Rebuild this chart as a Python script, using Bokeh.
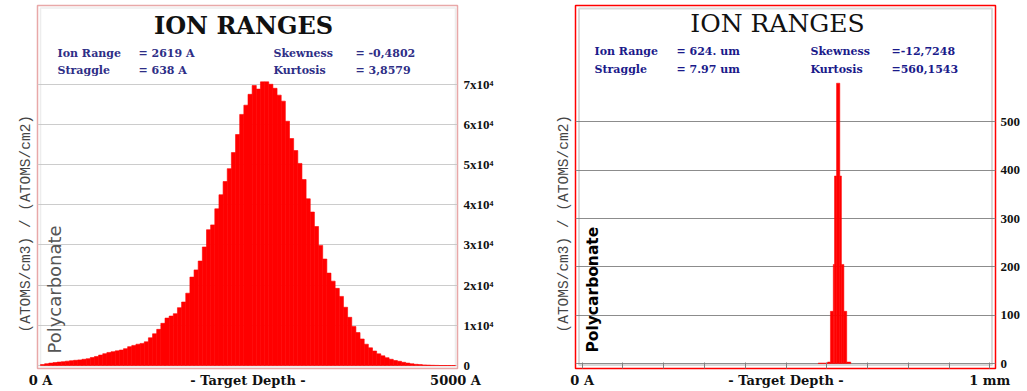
import math
from bokeh.plotting import figure
from bokeh.models import Range1d, FixedTicker, Label, BoxAnnotation, Title
from bokeh.layouts import row
from bokeh.embed import file_html
from bokeh.resources import INLINE

# ---------------- data ----------------
# Left panel: ion distribution, 50 A bins from 0 to 5000 A
left_edges = list(range(0, 5001, 50))
left_counts = [250, 450, 600, 720, 850, 950, 1080, 1200, 1300, 1400,
               1550, 1700, 2000, 2250, 2600, 2950, 3250, 3450, 3650, 3850,
               4200, 4700, 5000, 5300, 5500, 5900, 6900, 7900, 9000, 10500,
               11800, 12300, 12900, 14400, 15800, 18000, 22000, 23800, 26000, 29500,
               33800, 35000, 39000, 42500, 45800, 49000, 53000, 57500, 62500, 64800,
               67500, 69700, 68800, 70600, 70600, 70000, 69000, 67300, 65800, 60800,
               56500, 53500, 50300, 46300, 41500, 38200, 34600, 29900, 26500, 23000,
               21000, 19200, 17200, 14500, 12000, 9700, 8200, 6600, 5300, 4400,
               3600, 2900, 2400, 1950, 1550, 1250, 1050, 800, 600, 430,
               300, 220, 150, 100, 60, 30, 0, 0, 0, 0]
left_yticks = [0, 10000, 20000, 30000, 40000, 50000, 60000, 70000]
left_ytick_labels = ["0", "1x10⁴", "2x10⁴", "3x10⁴", "4x10⁴", "5x10⁴", "6x10⁴", "7x10⁴"]
left_xticks = [0, 2500, 5000]
left_xtick_labels = ["0 A", "- Target Depth -", "5000 A"]
left_stat_names = [["Ion Range", "Straggle"], ["Skewness", "Kurtosis"]]
left_stat_values = [["= 2619 A", "= 638 A"], ["= -0,4802", "= 3,8579"]]

# Right panel: ion distribution (mm), uneven bins
right_edges = [0.579, 0.602, 0.609, 0.616, 0.619, 0.624, 0.632, 0.636, 0.642, 0.649, 0.659]
right_counts = [1, 3, 108, 205, 388, 580, 388, 205, 108, 3]
right_yticks = [0, 100, 200, 300, 400, 500]
right_xticks = [0, 0.5, 1.0]
right_xtick_labels = ["0 A", "- Target Depth -", "1 mm"]
right_minor_ticks = [0.1, 0.2, 0.3, 0.4, 0.6, 0.7, 0.8, 0.9]
right_stat_names = [["Ion Range", "Straggle"], ["Skewness", "Kurtosis"]]
right_stat_values = [["= 624. um", "= 7.97 um"], ["=-12,7248", "=560,1543"]]

material = "Polycarbonate"
yaxis_text = "(ATOMS/cm3) / (ATOMS/cm2)"
title_text = "ION RANGES"

# ---------------- layout (page pixels) ----------------
H = 390
LW, RW = 520, 505
LF = (37, 5, 457, 369)     # left frame l, t, r, b
RF = (575, 5, 995, 370)    # right frame

# left mapping: x 0 @ 40, 5000 @ 455 ; y 0 @ 366, 70000 @ 84
lxs = 5000 / 415.0
lys = 70000 / 282.0
lx_range = (-(40 - LF[0]) * lxs, 5000 + (LF[2] - 455) * lxs)
ly_range = (-(LF[3] - 366) * lys, (366 - LF[1]) * lys)
# right mapping: x 0 @ 581.7, 1 @ 989.3 ; y 0 @ 365, 500 @ 122
rxs = 1 / 407.6
rys = 500 / 243.0
rx_range = (-(581.7 - RF[0]) * rxs, 1 + (RF[2] - 989.3) * rxs)
ry_range = (-(RF[3] - 365) * rys, (365 - RF[1]) * rys)


def mapper(frame, xr, yr):
    l, t, r, b = frame
    def fx(px):
        return xr[0] + (px - l) / (r - l) * (xr[1] - xr[0])
    def fy(py):
        return yr[1] - (py - t) / (b - t) * (yr[1] - yr[0])
    return fx, fy


lx, ly = mapper(LF, lx_range, ly_range)
rx, ry = mapper(RF, rx_range, ry_range)

SERIF = "DejaVu Serif"


def base_fig(width, frame, page_left, xr, yr):
    p = figure(width=width, height=H, output_backend="svg", toolbar_location=None,
               x_range=Range1d(*xr), y_range=Range1d(*yr), y_axis_location="right",
               min_border_left=frame[0] - page_left, min_border_right=page_left + width - frame[2],
               min_border_top=frame[1], min_border_bottom=H - frame[3])
    p.background_fill_color = "white"
    p.border_fill_color = "white"
    p.xgrid.visible = False
    for ax in (p.xaxis[0], p.yaxis[0]):
        ax.axis_line_color = None
        ax.major_tick_out = 0
        ax.major_tick_in = 0
        ax.minor_tick_out = 0
        ax.minor_tick_in = 0
        ax.major_label_text_font = SERIF
        ax.major_label_text_font_style = "bold"
        ax.major_label_text_color = "#111111"
    p.xaxis.major_label_standoff = 4
    p.xaxis.major_label_text_font_size = "13px"
    p.yaxis.major_label_text_font = "Liberation Serif"
    p.yaxis.major_label_text_font_size = "13px"
    p.add_layout(Title(text=yaxis_text, align="left", offset=36, standoff=8,
                       text_font="Liberation Mono", text_font_size="14.5px",
                       text_font_style="normal", text_color="#444444"), "left")
    return p


def add_texts(p, fx, fy, pos, stat_color, names, values, poly_style):
    tx, ty, tsize, tstyle = pos["title"]
    p.add_layout(Label(x=fx(tx), y=fy(ty), text=title_text, text_font=SERIF,
                       text_font_size=tsize, text_font_style=tstyle, text_color="#111111",
                       text_align="center", text_baseline="middle"))
    xs = pos["stat_x"]
    ys = pos["stat_y"]
    for c in range(2):
        for r in range(2):
            p.add_layout(Label(x=fx(xs[2 * c]), y=fy(ys[r]), text=names[c][r], text_font=SERIF,
                               text_font_size="11px", text_font_style="bold", text_color=stat_color,
                               text_align="left", text_baseline="middle"))
            p.add_layout(Label(x=fx(xs[2 * c + 1]), y=fy(ys[r]), text=values[c][r], text_font=SERIF,
                               text_font_size="11px", text_font_style="bold", text_color=stat_color,
                               text_align="left", text_baseline="middle"))
    px_, py_, font, size, style, color = poly_style
    p.add_layout(Label(x=fx(px_), y=fy(py_), text=material, text_font=font, text_font_size=size,
                       text_font_style=style, text_color=color, angle=math.pi / 2,
                       text_align="left", text_baseline="middle"))


# ---------------- left figure ----------------
pl = base_fig(LW, LF, 0, lx_range, ly_range)
pl.outline_line_color = "#e8a8a8"
pl.outline_line_width = 1.5
pl.ygrid.grid_line_color = "#cccccc"
pl.yaxis.ticker = FixedTicker(ticks=left_yticks)
pl.yaxis.major_label_overrides = dict(zip(left_yticks, left_ytick_labels))
pl.yaxis.major_label_standoff = 6
pl.xaxis.ticker = FixedTicker(ticks=left_xticks)
pl.xaxis.major_label_overrides = dict(zip(left_xticks, left_xtick_labels))
pl.add_layout(BoxAnnotation(left=lx(40), right=lx(455), top=ly(7.5), bottom=ly(367),
                            fill_color=None, fill_alpha=0, line_color="#c4c4c4", line_width=1.5,
                            level="underlay"))
pl.quad(left=left_edges[:-1], right=left_edges[1:], bottom=0, top=left_counts,
        fill_color="#ff0000", line_color="#ff0000", line_width=0.6)
add_texts(pl, lx, ly,
          {"title": (243, 25, "24px", "bold"), "stat_x": [57, 138, 273, 355], "stat_y": [53, 70]},
          "#2e2e86", left_stat_names, left_stat_values,
          (54, 354, "DejaVu Sans", "18px", "normal", "#555555"))

# ---------------- right figure ----------------
pr = base_fig(RW, RF, 520, rx_range, ry_range)
pr.outline_line_color = "#ff0000"
pr.outline_line_width = 1.5
pr.ygrid.grid_line_color = "#8c8c8c"
pr.yaxis.ticker = FixedTicker(ticks=right_yticks)
pr.yaxis.major_label_standoff = 5
pr.xaxis.ticker = FixedTicker(ticks=right_xticks, minor_ticks=right_minor_ticks)
pr.xaxis.major_label_overrides = dict(zip(right_xticks, right_xtick_labels))
pr.xaxis.major_tick_in = 6
pr.xaxis.minor_tick_in = 6
pr.xaxis.major_tick_line_color = "#808080"
pr.xaxis.minor_tick_line_color = "#808080"
pr.add_layout(BoxAnnotation(left=rx(578.5), right=rx(991.5), top=ry(8), bottom=ry(366.5),
                            fill_color=None, fill_alpha=0, line_color="#808080", line_width=2,
                            level="underlay"))
pr.quad(left=right_edges[:-1], right=right_edges[1:], bottom=0, top=right_counts,
        fill_color="#ff0000", line_color="#ff0000", line_width=0.5)
add_texts(pr, rx, ry,
          {"title": (777, 23, "25px", "normal"), "stat_x": [594, 676, 810, 891], "stat_y": [51, 69]},
          "#1a1a8a", right_stat_names, right_stat_values,
          (592, 354, "DejaVu Sans", "15.5px", "bold", "#000000"))

layout = row(pl, pr)
open("out.html", "w").write(file_html(layout, INLINE))
